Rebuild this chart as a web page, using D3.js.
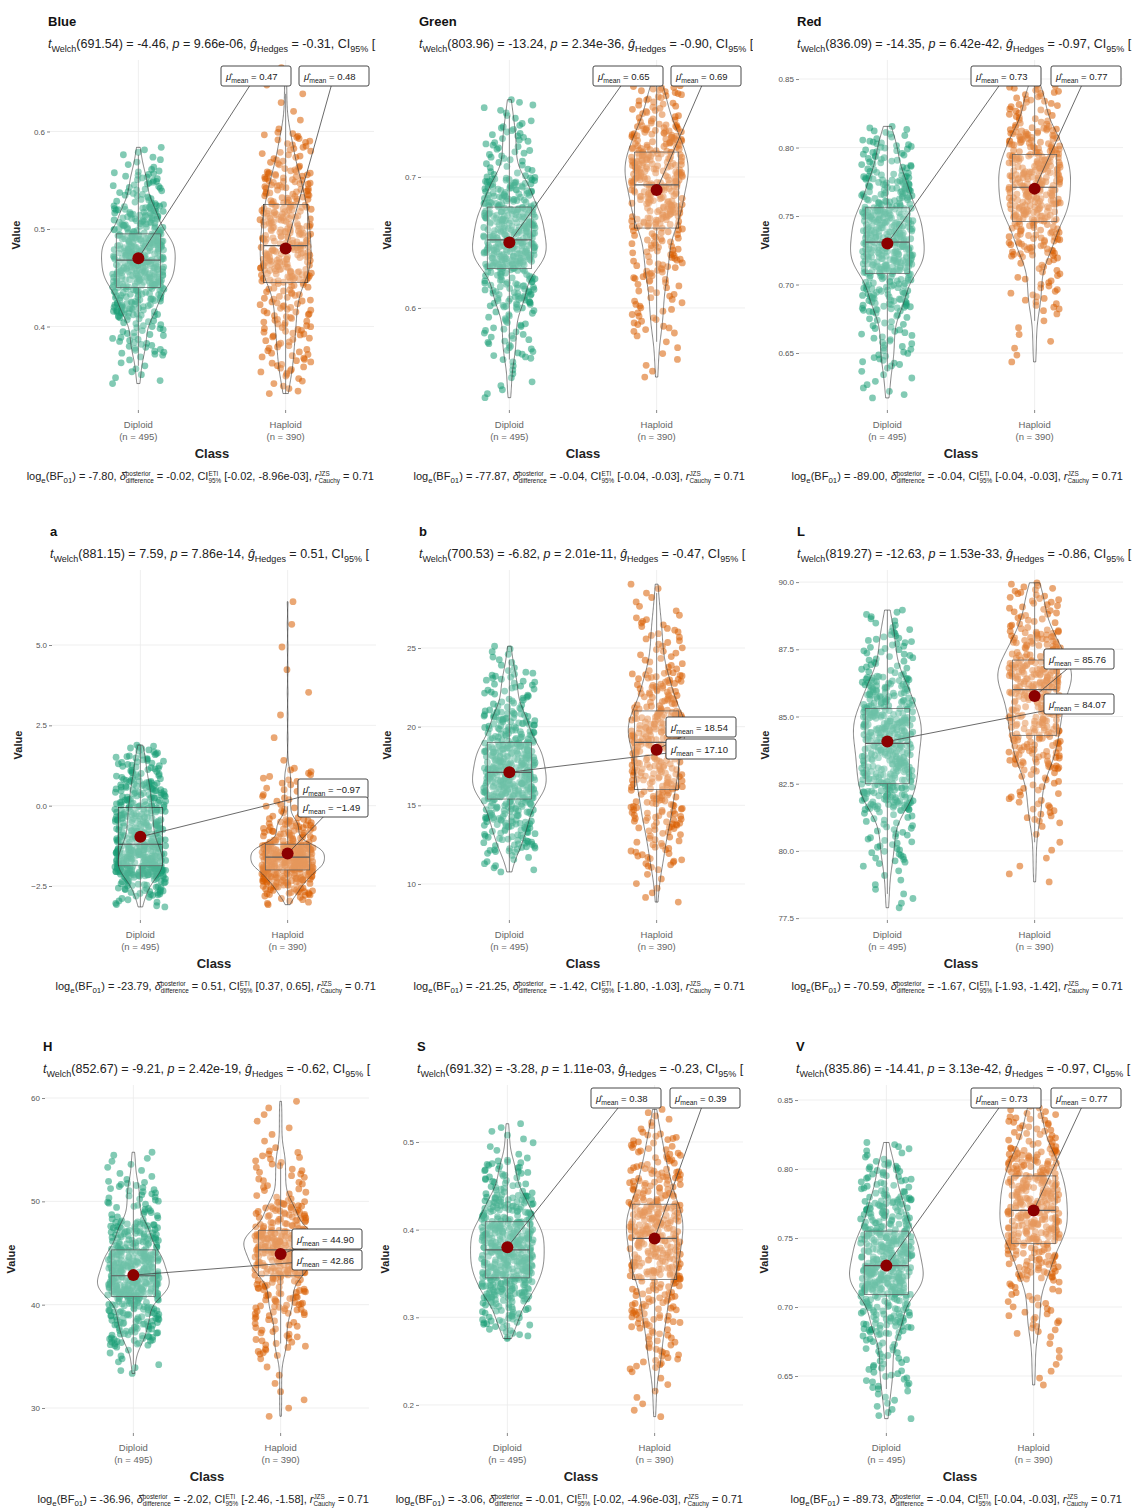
<!DOCTYPE html>
<html>
<head>
<meta charset="utf-8">
<title>Diploid vs Haploid</title>
<script src="https://cdn.jsdelivr.net/npm/d3@7"></script>
<style>
body { margin: 0; background: #fff; }
svg text { font-family: "Liberation Sans", Arial, sans-serif; }
</style>
</head>
<body>
<script>
// ---- data ----
var panelNames = ["Blue", "Green", "Red", "a", "b", "L", "H", "S", "V"];
var classes = ["Diploid", "Haploid"];
var counts = [495, 390];

var meanDiploid = [0.47, 0.65, 0.73, -0.97, 17.10, 84.07, 42.86, 0.38, 0.73];
var meanHaploid = [0.48, 0.69, 0.77, -1.49, 18.54, 85.76, 44.90, 0.39, 0.77];

// quantiles at these probabilities, read from the jitter / boxes
var probs = [0, 0.02, 0.1, 0.25, 0.5, 0.75, 0.9, 0.98, 1];
var quantDiploid = [
  [0.34, 0.37, 0.41, 0.44, 0.468, 0.495, 0.525, 0.56, 0.585],
  [0.53, 0.56, 0.60, 0.63, 0.652, 0.677, 0.70, 0.74, 0.76],
  [0.616, 0.64, 0.68, 0.708, 0.731, 0.756, 0.78, 0.805, 0.816],
  [-3.17, -2.8, -2.2, -1.87, -1.2, -0.06, 0.8, 1.6, 1.9],
  [10.7, 12, 13.5, 15.4, 17.1, 19, 21, 23.5, 25.2],
  [77.8, 79.5, 81.5, 82.5, 84.0, 85.3, 86.5, 88.2, 89.0],
  [33.2, 36, 38, 40.8, 42.8, 45.3, 48, 52, 54.9],
  [0.275, 0.29, 0.32, 0.345, 0.377, 0.409, 0.44, 0.48, 0.523],
  [0.618, 0.64, 0.68, 0.709, 0.73, 0.755, 0.78, 0.805, 0.82]
];
var quantHaploid = [
  [0.33, 0.35, 0.39, 0.445, 0.483, 0.525, 0.56, 0.60, 0.67],
  [0.545, 0.58, 0.62, 0.661, 0.694, 0.719, 0.74, 0.765, 0.77],
  [0.641, 0.68, 0.72, 0.746, 0.771, 0.795, 0.815, 0.84, 0.846],
  [-3.1, -2.8, -2.4, -2.0, -1.6, -1.2, -0.4, 1.2, 6.7],
  [8.7, 11, 13.5, 16, 19, 21, 23.5, 27, 29.2],
  [78.7, 81, 83, 84.3, 86, 87.1, 88.2, 89.6, 90],
  [28.8, 35, 39, 42.8, 45.3, 47.2, 50, 55, 60],
  [0.183, 0.24, 0.29, 0.343, 0.39, 0.429, 0.47, 0.51, 0.539],
  [0.641, 0.68, 0.72, 0.746, 0.77, 0.795, 0.815, 0.84, 0.85]
];

var yTicks = [
  [0.4, 0.5, 0.6], [0.6, 0.7], [0.65, 0.70, 0.75, 0.80, 0.85],
  [-2.5, 0, 2.5, 5], [10, 15, 20, 25], [77.5, 80, 82.5, 85, 87.5, 90],
  [30, 40, 50, 60], [0.2, 0.3, 0.4, 0.5], [0.65, 0.70, 0.75, 0.80, 0.85]
];
var tickFormats = [".1f", ".1f", ".2f", ".1f", "d", ".1f", "d", ".1f", ".2f"];

// Welch test subtitle
var welchDf = ["691.54", "803.96", "836.09", "881.15", "700.53", "819.27", "852.67", "691.32", "835.86"];
var welchT = ["-4.46", "-13.24", "-14.35", "7.59", "-6.82", "-12.63", "-9.21", "-3.28", "-14.41"];
var pValues = ["9.66e-06", "2.34e-36", "6.42e-42", "7.86e-14", "2.01e-11", "1.53e-33", "2.42e-19", "1.11e-03", "3.13e-42"];
var hedgesG = ["-0.31", "-0.90", "-0.97", "0.51", "-0.47", "-0.86", "-0.62", "-0.23", "-0.97"];

// Bayes caption
var logBF = ["-7.80", "-77.87", "-89.00", "-23.79", "-21.25", "-70.59", "-36.96", "-3.06", "-89.73"];
var deltaPost = ["-0.02", "-0.04", "-0.04", "0.51", "-1.42", "-1.67", "-2.02", "-0.01", "-0.04"];
var ciPost = ["[-0.02, -8.96e-03]", "[-0.04, -0.03]", "[-0.04, -0.03]", "[0.37, 0.65]", "[-1.80, -1.03]",
  "[-1.93, -1.42]", "[-2.46, -1.58]", "[-0.02, -4.96e-03]", "[-0.04, -0.03]"];
var rCauchy = ["0.71", "0.71", "0.71", "0.71", "0.71", "0.71", "0.71", "0.71", "0.71"];

// ---- layout ----
var W = 1138, H = 1508;
var plotLeft = [50, 421, 799, 52, 421, 799, 45, 419, 798];
var plotW = 324;
var rowTop = [60, 570, 1085], rowBottom = [410, 920, 1433];
var colClip = [[0, 376], [378, 753], [755, 1136]];
var yDomains = [
  [0.3144, 0.6733], [0.5221, 0.7893], [0.6084, 0.8639],
  [-3.558, 7.334], [7.71, 29.96], [77.43, 90.45],
  [27.58, 61.26], [0.168, 0.565], [0.6087, 0.8609]
];
// mean label boxes: [left, centerY] for diploid / haploid
var labelPos = [
  {d: [221, 76], h: [299, 76]}, {d: [593, 76], h: [671, 76]}, {d: [971, 76], h: [1051, 76]},
  {d: [298, 789], h: [298, 807]}, {d: [666, 749], h: [666, 727]}, {d: [1044, 704], h: [1044, 659]},
  {d: [292, 1260], h: [292, 1239]}, {d: [591, 1098], h: [670, 1098]}, {d: [971, 1098], h: [1051, 1098]}
];
var colors = ["#1b9e77", "#d95f02"];

var svg = d3.select("body").append("svg").attr("width", W).attr("height", H);
svg.append("rect").attr("width", W).attr("height", H).attr("fill", "#fff");
var defs = svg.append("defs");
colClip.forEach(function(c, i) {
  defs.append("clipPath").attr("id", "clip" + i).append("rect")
    .attr("x", c[0]).attr("y", 0).attr("width", c[1] - c[0]).attr("height", H);
});

// rich text with sub / sup parts
function rich(txt, parts, small) {
  var off = 0;
  parts.forEach(function(p) {
    if (typeof p === "string" || p.i) {
      var s = typeof p === "string" ? p : p.i;
      var t = txt.append("tspan").attr("dy", -off).text(s);
      if (p.i) t.attr("font-style", "italic");
      off = 0;
    } else if (p.sub && !p.sup) {
      txt.append("tspan").attr("dy", small - off).attr("font-size", "72%").text(p.sub);
      off = small;
    } else {
      var sp = txt.append("tspan").attr("dy", -small * 1.2 - off).attr("font-size", "58%").text(p.sup);
      var w1 = sp.node().getComputedTextLength();
      var sb = txt.append("tspan").attr("dy", small * 2.3).attr("dx", -w1).attr("font-size", "58%").text(p.sub);
      var w2 = sb.node().getComputedTextLength();
      off = small * 1.1;
      if (w1 > w2) txt.append("tspan").attr("dx", w1 - w2).text("");
    }
  });
}

function quantileAt(q, p) {
  for (var k = 1; k < probs.length; k++) {
    if (p <= probs[k]) {
      var t = (p - probs[k - 1]) / (probs[k] - probs[k - 1]);
      return q[k - 1] + t * (q[k] - q[k - 1]);
    }
  }
  return q[q.length - 1];
}

// fixed jitter offsets in [0,1)
function jit(i, s) {
  var v = Math.sin(i * 12.9898 + s * 78.233) * 43758.5453;
  return v - Math.floor(v);
}

function kde(values, lo, hi) {
  var n = values.length;
  var sd = d3.deviation(values);
  var iqr = d3.quantile(values, 0.75) - d3.quantile(values, 0.25);
  var bw = 0.9 * Math.min(sd, iqr / 1.34) * Math.pow(n, -0.2);
  var out = [];
  for (var k = 0; k <= 256; k++) {
    var x = lo + (hi - lo) * k / 256, s = 0;
    for (var j = 0; j < n; j++) {
      var u = (x - values[j]) / bw;
      s += Math.exp(-0.5 * u * u);
    }
    out.push([x, s / (n * bw * Math.sqrt(2 * Math.PI))]);
  }
  return out;
}

panelNames.forEach(function(name, pi) {
  var row = Math.floor(pi / 3), col = pi % 3;
  var top = rowTop[row], bottom = rowBottom[row], left = plotLeft[pi];
  var x = d3.scaleLinear().domain([0.4, 2.6]).range([left, left + plotW]);
  var y = d3.scaleLinear().domain(yDomains[pi]).range([bottom, top]);
  var unit = x(2) - x(1);
  var g = svg.append("g");

  // grid
  g.selectAll(".hg").data(yTicks[pi]).enter().append("line")
    .attr("x1", left).attr("x2", left + plotW)
    .attr("y1", function(d) { return y(d); }).attr("y2", function(d) { return y(d); })
    .attr("stroke", "#ebebeb").attr("stroke-width", 0.8);
  g.selectAll(".vg").data([1, 2]).enter().append("line")
    .attr("x1", function(d) { return x(d); }).attr("x2", function(d) { return x(d); })
    .attr("y1", top).attr("y2", bottom)
    .attr("stroke", "#ebebeb").attr("stroke-width", 0.8);

  // y axis
  var yAxis = d3.axisLeft(y).tickValues(yTicks[pi]).tickFormat(d3.format(tickFormats[pi])).tickSize(3).tickPadding(2);
  var ya = g.append("g").attr("transform", "translate(" + left + ",0)").call(yAxis);
  ya.select(".domain").remove();
  ya.selectAll(".tick line").attr("stroke", "#888");
  ya.selectAll(".tick text").attr("fill", "#555").attr("font-size", 8);

  // x axis labels
  [0, 1].forEach(function(ci) {
    var cx = x(ci + 1);
    g.append("line").attr("x1", cx).attr("x2", cx).attr("y1", bottom).attr("y2", bottom + 3).attr("stroke", "#888");
    g.append("text").attr("x", cx).attr("y", bottom + 18).attr("text-anchor", "middle")
      .attr("font-size", 9.5).attr("fill", "#666").text(classes[ci]);
    g.append("text").attr("x", cx).attr("y", bottom + 30).attr("text-anchor", "middle")
      .attr("font-size", 9.5).attr("fill", "#666").text("(n = " + counts[ci] + ")");
  });
  g.append("text").attr("x", x(1.5)).attr("y", bottom + 48).attr("text-anchor", "middle")
    .attr("font-size", 13).attr("font-weight", "bold").attr("fill", "#222").text("Class");
  g.append("text").attr("transform", "translate(" + (left - 30) + "," + ((top + bottom) / 2) + ") rotate(-90)")
    .attr("text-anchor", "middle").attr("font-size", 11).attr("font-weight", "bold").attr("fill", "#222").text("Value");

  // title + subtitle
  g.append("text").attr("x", left - 2).attr("y", top - 34).attr("font-size", 13)
    .attr("font-weight", "bold").attr("fill", "#111").text(name);
  var sub = g.append("text").attr("x", left - 2).attr("y", top - 12).attr("font-size", 12.5)
    .attr("fill", "#222").attr("clip-path", "url(#clip" + col + ")");
  rich(sub, [{i: "t"}, {sub: "Welch"}, "(" + welchDf[pi] + ") = " + welchT[pi] + ", ", {i: "p"},
    " = " + pValues[pi] + ", ", {i: "\u011d"}, {sub: "Hedges"}, " = " + hedgesG[pi] + ", CI", {sub: "95%"}, " ["], 3.5);

  // caption
  var cap = g.append("text").attr("x", left + plotW).attr("y", bottom + 70).attr("font-size", 11)
    .attr("fill", "#222").attr("text-anchor", "end");
  rich(cap, ["log", {sub: "e"}, "(BF", {sub: "01"}, ") = " + logBF[pi] + ", ", {i: "\u03b4\u0302"},
    {sup: "posterior", sub: "difference"}, " = " + deltaPost[pi] + ", CI", {sup: "ETI", sub: "95%"},
    " " + ciPost[pi] + ", ", {i: "r"}, {sup: "JZS", sub: "Cauchy"}, " = " + rCauchy[pi]], 3);

  var quants = [quantDiploid[pi], quantHaploid[pi]];
  var groups = quants.map(function(q, ci) {
    var n = counts[ci], vals = [];
    for (var i = 0; i < n; i++) vals.push(quantileAt(q, (i + 0.5) / n));
    return vals;
  });

  // jittered points
  groups.forEach(function(vals, ci) {
    g.append("g").selectAll("circle").data(vals).enter().append("circle")
      .attr("cx", function(d, i) { return x(ci + 1) + (jit(i, pi * 2 + ci) - 0.5) * 0.35 * unit; })
      .attr("cy", function(d) { return y(d); })
      .attr("r", 3.4).attr("fill", colors[ci]).attr("fill-opacity", 0.55);
  });

  // boxplots
  groups.forEach(function(vals, ci) {
    var q = quants[ci];
    var q1 = q[3], med = q[4], q3 = q[5], iqr = q3 - q1;
    var lo = d3.min(vals.filter(function(v) { return v >= q1 - 1.5 * iqr; }));
    var hi = d3.max(vals.filter(function(v) { return v <= q3 + 1.5 * iqr; }));
    var cx = x(ci + 1), hw = 0.15 * unit;
    g.append("line").attr("x1", cx).attr("x2", cx).attr("y1", y(q3)).attr("y2", y(hi)).attr("stroke", "#333").attr("stroke-width", 0.7);
    g.append("line").attr("x1", cx).attr("x2", cx).attr("y1", y(q1)).attr("y2", y(lo)).attr("stroke", "#333").attr("stroke-width", 0.7);
    g.append("rect").attr("x", cx - hw).attr("width", 2 * hw).attr("y", y(q3)).attr("height", y(q1) - y(q3))
      .attr("fill", "#fff").attr("fill-opacity", 0.2).attr("stroke", "#333").attr("stroke-width", 0.7);
    g.append("line").attr("x1", cx - hw).attr("x2", cx + hw).attr("y1", y(med)).attr("y2", y(med)).attr("stroke", "#333").attr("stroke-width", 1.2);
  });

  // violins
  var dens = groups.map(function(vals) { return kde(vals, d3.min(vals), d3.max(vals)); });
  var maxD = d3.max(dens, function(ds) { return d3.max(ds, function(d) { return d[1]; }); });
  dens.forEach(function(ds, ci) {
    var cx = x(ci + 1);
    var area = d3.area().curve(d3.curveLinear)
      .y(function(d) { return y(d[0]); })
      .x0(function(d) { return cx - 0.25 * unit * d[1] / maxD; })
      .x1(function(d) { return cx + 0.25 * unit * d[1] / maxD; });
    g.append("path").datum(ds).attr("d", area)
      .attr("fill", "#fff").attr("fill-opacity", 0.2).attr("stroke", "#333").attr("stroke-width", 0.6);
  });

  // means + labels
  var means = [meanDiploid[pi], meanHaploid[pi]];
  var lp = [labelPos[pi].d, labelPos[pi].h];
  means.forEach(function(m, ci) {
    var px = x(ci + 1), py = y(m);
    var bx = lp[ci][0], by = lp[ci][1], bw = 70, bh = 20;
    // segment from point to nearest edge of box
    var cx = bx + bw / 2, dx = cx - px, dy = by - py;
    var t = Math.min(Math.abs((bw / 2) / (dx || 1e-6)), Math.abs((bh / 2) / (dy || 1e-6)));
    g.append("line").attr("x1", px).attr("y1", py).attr("x2", cx - dx * t).attr("y2", by - dy * t)
      .attr("stroke", "#444").attr("stroke-width", 0.8);
    g.append("circle").attr("cx", px).attr("cy", py).attr("r", 6).attr("fill", "#8b0000");
  });
  means.forEach(function(m, ci) {
    var bx = lp[ci][0], by = lp[ci][1], bw = 70, bh = 20;
    g.append("rect").attr("x", bx).attr("y", by - bh / 2).attr("width", bw).attr("height", bh).attr("rx", 2)
      .attr("fill", "#fff").attr("stroke", "#333").attr("stroke-width", 0.9);
    var lt = g.append("text").attr("x", bx + 5).attr("y", by + 4).attr("font-size", 9.5).attr("fill", "#222");
    rich(lt, [{i: "\u03bc\u0302"}, {sub: "mean"}, " = " + d3.format(".2f")(m)], 2.5);
  });
});
</script>
</body>
</html>
